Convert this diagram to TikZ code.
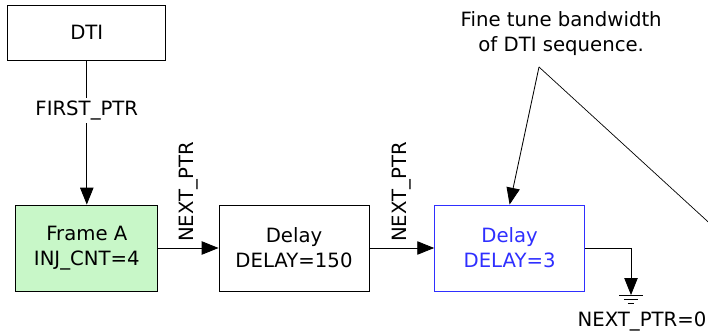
\documentclass[tikz,border=0pt]{standalone}
\usepackage{fontspec}
\setmainfont{DejaVu Sans}
\definecolor{FrameGreen}{HTML}{C8F7C8}
\definecolor{DelayBlue}{HTML}{2F2FFF}
\usetikzlibrary{arrows.meta, positioning}
\tikzset{
  box/.style={draw=black, line width=0.6pt, fill=white, align=center, minimum width=3.75cm, minimum height=2.15cm, inner sep=4pt, font=\fontsize{14}{17.8}\selectfont},
  greenbox/.style={box, fill=FrameGreen, minimum width=3.55cm},
  bluebox/.style={box, draw=DelayBlue, text=DelayBlue},
  arrow/.style={-{Triangle[length=12pt, width=9.5pt]}, line width=0.6pt, draw=black},
  ptrtext/.style={font=\fontsize{14}{17.8}\selectfont, inner sep=4pt}
}

\begin{document}
\begin{tikzpicture}[
  ground/.style={line width=0.6pt},
  thinline/.style={line width=0.5pt}
]
\useasboundingbox (0,0) rectangle (17.7,-8.375);
\node[box, minimum width=3.95cm, minimum height=1.375cm] (dti) at (2.17,-0.8125) {DTI};
\node[greenbox] (frame) at (2.17,-6.2) {Frame A\\INJ\_CNT=4};
\node[box] (delay) at (7.35,-6.2) {Delay\\DELAY=150};
\node[bluebox] (fine) at (12.74,-6.2) {Delay\\DELAY=3};
\node[ptrtext, align=center] (note) at (14.03,-0.84) {Fine tune bandwidth\\of DTI sequence.};
\coordinate (notetip) at (13.475,-1.675);
\coordinate (offpage) at (17.75,-5.59);
\coordinate (gnd) at (15.775,-7.375);
\node[ptrtext] (endptr) at (16.05,-8.05) {NEXT\_PTR=0};

\draw[arrow] (dti.south) -- node[ptrtext, fill=white, pos=0.345, inner sep=2pt] (firstptr) {FIRST\_PTR} (frame.north);
\draw[arrow] (frame) -- node[ptrtext, rotate=90, anchor=west] (nextptra) {NEXT\_PTR} (delay);
\draw[arrow] (delay) -- node[ptrtext, rotate=90, anchor=west] (nextptrb) {NEXT\_PTR} (fine);
\draw[arrow] (fine.east) -| (gnd);

% ground
\draw[ground] (gnd) ++(-0.29,0) -- ++(0.58,0);
\draw[ground] (gnd) ++(-0.18,-0.1) -- ++(0.36,0);
\draw[ground] (gnd) ++(-0.08,-0.2) -- ++(0.16,0);

% callout
\draw[arrow] (notetip) -- (fine.north);
\draw[thinline] (notetip) -- (offpage);
\end{tikzpicture}
\end{document}
